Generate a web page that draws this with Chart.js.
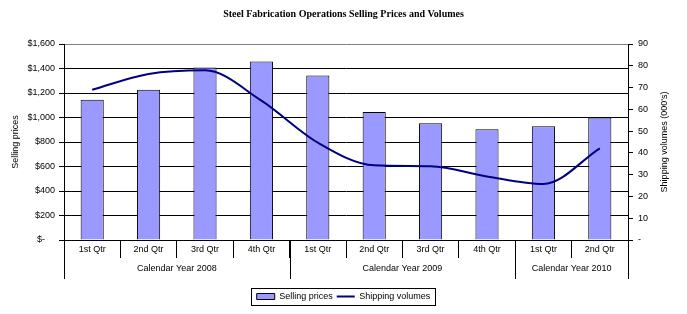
<!DOCTYPE html>
<html>
<head>
<meta charset="utf-8">
<script src="https://cdn.jsdelivr.net/npm/chart.js@4.4.1/dist/chart.umd.min.js"></script>
<style>
  html, body { margin: 0; padding: 0; background: #fff; }
  #wrap { width: 687px; height: 314px; }
</style>
</head>
<body>
<div id="wrap"><canvas id="steelChart"></canvas></div>
<script>
const quarters = ['1st Qtr', '2nd Qtr', '3rd Qtr', '4th Qtr', '1st Qtr', '2nd Qtr', '3rd Qtr', '4th Qtr', '1st Qtr', '2nd Qtr'];
const yearLabels = ['Calendar Year 2008', 'Calendar Year 2009', 'Calendar Year 2010'];
const yearSpans = [4, 4, 2];
const sellingPrices = [1145, 1226, 1408, 1457, 1342, 1045, 954, 905, 929, 1001];
const shippingVolumes = [69.0, 76.2, 77.9, 64.0, 44.7, 34.3, 33.9, 29.2, 25.7, 42.1];

const tickFont = { family: 'Liberation Sans', size: 9 };

// year row under the quarter labels, right axis title (reads bottom-up like excel) and legend frame
const groupAxis = {
    id: 'groupAxis',
    afterDraw(chart) {
        const ctx = chart.ctx;
        const x = chart.scales.x;
        const half = (x.getPixelForValue(1) - x.getPixelForValue(0)) / 2;
        const top = x.top;
        ctx.save();
        ctx.strokeStyle = '#000';
        ctx.lineWidth = 1;
        ctx.fillStyle = '#000';
        ctx.font = '9px "Liberation Sans"';
        ctx.textAlign = 'center';
        ctx.textBaseline = 'middle';
        let idx = 0;
        yearLabels.forEach((lbl, i) => {
            const left = x.getPixelForValue(idx) - half;
            const right = x.getPixelForValue(idx + yearSpans[i] - 1) + half;
            ctx.beginPath();
            ctx.moveTo(Math.round(left) + 0.5, top);
            ctx.lineTo(Math.round(left) + 0.5, top + 39);
            ctx.moveTo(Math.round(right) + 0.5, top);
            ctx.lineTo(Math.round(right) + 0.5, top + 39);
            ctx.stroke();
            ctx.fillText(lbl, (left + right) / 2, top + 29);
            idx += yearSpans[i];
        });

        const y2 = chart.scales.y2;
        ctx.save();
        ctx.translate(y2.right - 22, (chart.chartArea.top + chart.chartArea.bottom) / 2);
        ctx.rotate(-Math.PI / 2);
        ctx.fillText("Shipping volumes (000's)", 0, 0);
        ctx.restore();

        const boxes = chart.legend.legendHitBoxes;
        if (boxes && boxes.length) {
            const l = boxes[0].left - 6;
            const r = boxes[boxes.length - 1].left + boxes[boxes.length - 1].width + 4;
            const t = boxes[0].top - 4;
            const b = boxes[0].top + boxes[0].height + 4;
            ctx.strokeRect(Math.round(l) + 0.5, Math.round(t) + 0.5, Math.round(r - l), Math.round(b - t));
        }
        ctx.restore();
    }
};

const ctx = document.getElementById('steelChart').getContext('2d');
const steelChart = new Chart(ctx, {
    type: 'bar',
    data: {
        labels: quarters,
        datasets: [{
            label: 'Selling prices',
            data: sellingPrices,
            backgroundColor: '#9999ff',
            borderColor: '#000',
            borderWidth: 1,
            barPercentage: 0.41,
            categoryPercentage: 1,
            yAxisID: 'y',
            pointStyle: 'rect',
            order: 2
        }, {
            type: 'line',
            label: 'Shipping volumes',
            data: shippingVolumes,
            borderColor: '#000080',
            backgroundColor: '#000080',
            borderWidth: 2,
            pointRadius: 0,
            cubicInterpolationMode: 'monotone',
            yAxisID: 'y2',
            pointStyle: 'line',
            order: 1
        }]
    },
    plugins: [groupAxis],
    options: {
        responsive: true,
        maintainAspectRatio: false,
        animation: false,
        layout: { padding: { top: 0, bottom: 3, left: 0, right: 0 } },
        plugins: {
            title: {
                display: true,
                text: 'Steel Fabrication Operations Selling Prices and Volumes',
                color: '#000',
                font: { family: 'Liberation Serif', size: 10, weight: 'bold' },
                padding: { top: 8, bottom: 24 }
            },
            legend: {
                position: 'bottom',
                labels: {
                    color: '#000',
                    font: tickFont,
                    usePointStyle: true,
                    pointStyleWidth: 18,
                    boxHeight: 6,
                    padding: 4,
                    sort: (a, b) => a.datasetIndex - b.datasetIndex
                }
            },
            tooltip: { enabled: false }
        },
        scales: {
            x: {
                offset: true,
                grid: {
                    offset: true,
                    drawOnChartArea: false,
                    drawTicks: true,
                    tickLength: 18,
                    tickColor: '#000'
                },
                border: { color: '#000' },
                ticks: { color: '#000', font: tickFont, padding: -14, maxRotation: 0 },
                afterFit: s => { s.height = 48; }
            },
            y: {
                position: 'left',
                min: 0,
                max: 1600,
                grid: {
                    color: c => (c.tick && c.tick.value === 1600) ? '#808080' : '#000',
                    tickColor: '#000',
                    tickLength: 5
                },
                border: { color: '#000' },
                ticks: {
                    stepSize: 200,
                    color: '#000',
                    font: tickFont,
                    padding: 4,
                    callback: v => v === 0 ? '$-    ' : '$' + v.toLocaleString('en-US')
                },
                title: {
                    display: true,
                    text: 'Selling prices',
                    color: '#000',
                    font: tickFont,
                    padding: { top: 10, bottom: 4 }
                },
                afterFit: s => { s.width = 64; }
            },
            y2: {
                position: 'right',
                min: 0,
                max: 90,
                grid: {
                    drawOnChartArea: false,
                    tickColor: '#000',
                    tickLength: 5
                },
                border: { color: '#000' },
                ticks: {
                    stepSize: 10,
                    color: '#000',
                    font: tickFont,
                    padding: 5,
                    callback: v => v === 0 ? '-' : v
                },
                afterFit: s => { s.width = 59; }
            }
        }
    }
});
</script>
</body>
</html>
